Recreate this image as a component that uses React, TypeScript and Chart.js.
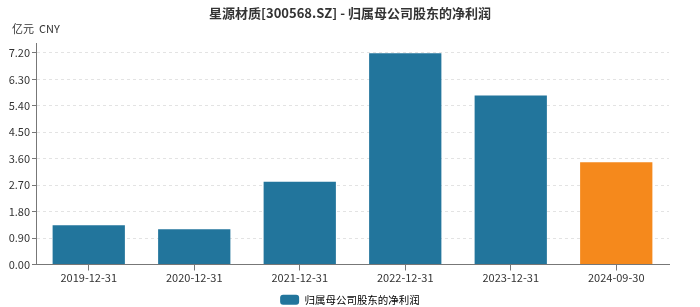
import React, { useEffect, useRef } from "react";
import { Chart, registerables } from "chart.js";

Chart.register(...registerables);

const categories = ["2019-12-31", "2020-12-31", "2021-12-31", "2022-12-31", "2023-12-31", "2024-09-30"];
const profitValues = [1.34, 1.2, 2.82, 7.19, 5.75, 3.48];
const yTicks = [0, 0.9, 1.8, 2.7, 3.6, 4.5, 5.4, 6.3, 7.2];
const seriesName = "归属母公司股东的净利润";
const titleText = "星源材质[300568.SZ] - 归属母公司股东的净利润";
const unitText = "亿元  CNY";

const BLUE = "#22759c";
const ORANGE = "#f5891c";
const FONT = "'Noto Sans CJK SC', 'Noto Sans', sans-serif";

const unitPlugin = {
  id: "unitLabel",
  afterDraw(chart: any) {
    const ctx = chart.ctx;
    ctx.save();
    ctx.font = `11px ${FONT}`;
    ctx.fillStyle = "#333";
    ctx.textBaseline = "middle";
    ctx.textAlign = "left";
    ctx.fillText(unitText, 12, 29);
    ctx.restore();
  },
};

export default function App() {
  const ref = useRef<HTMLCanvasElement>(null);
  useEffect(() => {
    if (!ref.current) return;
    const chart = new Chart(ref.current, {
      type: "bar",
      data: {
        labels: categories,
        datasets: [
          {
            label: seriesName,
            data: profitValues,
            backgroundColor: (c: any) => (c.dataIndex === categories.length - 1 ? ORANGE : BLUE),
            barPercentage: 0.685,
            categoryPercentage: 1,
          },
        ],
      },
      options: {
        animation: false,
        responsive: false,
        maintainAspectRatio: false,
        layout: { padding: { left: 0, right: 0, top: 0, bottom: -8 } },
        plugins: {
          title: {
            display: true,
            text: titleText,
            color: "#333",
            font: { size: 13, weight: "bold", family: FONT },
            padding: { top: 5, bottom: 22.4 },
          },
          legend: {
            position: "bottom",
            labels: {
              boxWidth: 19,
              boxHeight: 10,
              useBorderRadius: true,
              borderRadius: 3,
              color: "#333",
              font: { size: 10.5, family: FONT },
              padding: 6,
              generateLabels: () => [
                {
                  text: seriesName,
                  fillStyle: BLUE,
                  strokeStyle: BLUE,
                  lineWidth: 0,
                  hidden: false,
                  datasetIndex: 0,
                  borderRadius: 3,
                } as any,
              ],
            },
          },
          tooltip: { enabled: false },
        },
        scales: {
          x: {
            afterFit: (s: any) => {
              s.height = 24;
            },
            grid: {
              display: true,
              drawOnChartArea: false,
              drawTicks: true,
              tickLength: 6,
              offset: false,
              tickColor: "#777",
            },
            border: { display: true, color: "#777", width: 1 },
            ticks: {
              color: "#333",
              font: { size: 11, family: FONT },
              padding: 1,
              maxRotation: 0,
            },
          },
          y: {
            min: 0,
            max: 7.54,
            afterFit: (s: any) => {
              s.width = 36;
            },
            afterBuildTicks: (s: any) => {
              s.ticks = yTicks.map((v) => ({ value: v }));
            },
            grid: {
              color: "#e3e3e3",
              drawTicks: true,
              tickLength: 4,
              tickColor: "#777",
              tickBorderDash: [1, 0],
            },
            border: { display: true, color: "#777", width: 1, dash: [3, 3] },
            ticks: {
              color: "#333",
              font: { size: 11, family: FONT },
              padding: 2,
              callback: (v: any) => Number(v).toFixed(2),
            },
          },
          yRight: {
            position: "right",
            display: true,
            min: 0,
            max: 7.54,
            afterFit: (s: any) => {
              s.width = 31;
            },
            grid: { display: false },
            border: { display: false },
            ticks: { display: false },
          },
        },
      },
      plugins: [unitPlugin],
    });
    return () => chart.destroy();
  }, []);
  return (
    <div style={{ position: "absolute", left: 0, top: 0, width: 700, height: 307 }}>
      <canvas ref={ref} width={700} height={307} />
    </div>
  );
}
